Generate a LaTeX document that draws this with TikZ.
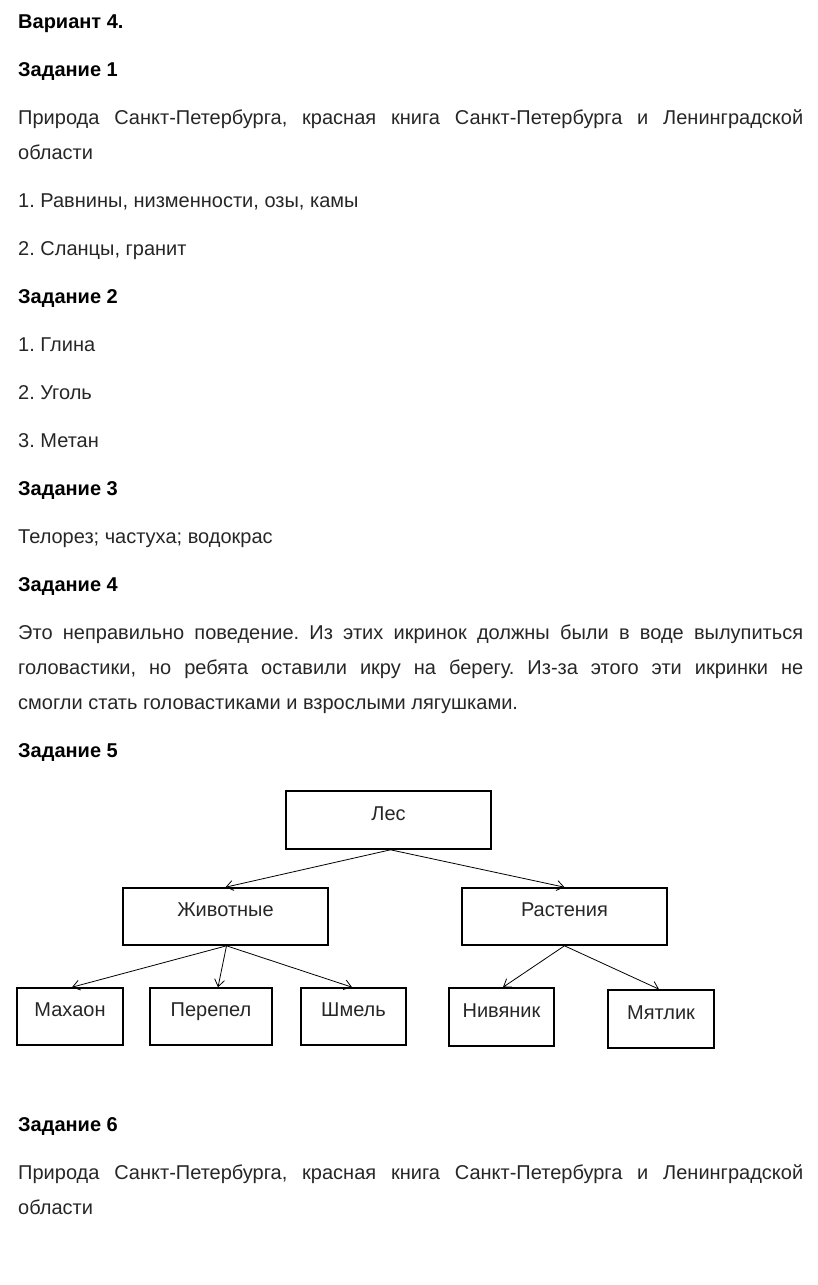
\documentclass[tikz,border=0pt]{standalone}
\usepackage{fontspec}
\setmainfont{Liberation Sans}
\frenchspacing
\usetikzlibrary{arrows.meta}

\begin{document}
\begin{tikzpicture} [x = 1pt, y = -1pt,
    line/.style = {anchor = base west, inner sep = 0pt, font = \fontsize{20}{24}\selectfont, text = black!85},
    head/.style = {line, font = \fontsize{20}{24}\selectfont\bfseries, text = black},
    box/.style = {draw, line width = 1.6pt, inner sep = 0pt, text height = 14pt, text depth = 14pt,
        minimum height = 57pt, font = \fontsize{20}{24}\selectfont, text = black!85},
    link/.style = {-{Straight Barb[length = 7pt, width = 10pt]}, line width = 0.8pt}]
    \useasboundingbox (0,0) rectangle (817,1285);

    \node (variant) [head] at (18,28) {Вариант 4.};
    \node (task1) [head] at (18,76) {Задание 1};
    \node (t1a) [line] at (18,124) {\makebox[785pt][s]{Природа Санкт-Петербурга, красная книга Санкт-Петербурга и Ленинградской}};
    \node (t1b) [line] at (18,159) {области};
    \node (t1c) [line] at (18,207) {1. Равнины, низменности, озы, камы};
    \node (t1d) [line] at (18,255) {2. Сланцы, гранит};

    \node (task2) [head] at (18,303) {Задание 2};
    \node (t2a) [line] at (18,351) {1. Глина};
    \node (t2b) [line] at (18,399) {2. Уголь};
    \node (t2c) [line] at (18,447) {3. Метан};

    \node (task3) [head] at (18,495) {Задание 3};
    \node (t3a) [line] at (18,543) {Телорез; частуха; водокрас};

    \node (task4) [head] at (18,591) {Задание 4};
    \node (t4a) [line] at (18,639) {\makebox[785pt][s]{Это неправильно поведение. Из этих икринок должны были в воде вылупиться}};
    \node (t4b) [line] at (18,674) {\makebox[785pt][s]{головастики, но ребята оставили икру на берегу. Из-за этого эти икринки не}};
    \node (t4c) [line] at (18,709) {смогли стать головастиками и взрослыми лягушками.};

    \node (task5) [head] at (18,757) {Задание 5};
    \node (les) [box, minimum width = 205pt, minimum height = 58pt] at (388.5,820) {Лес};
    \node (zhiv) [box, minimum width = 205pt] at (225.5,916.5) {Животные};
    \node (rast) [box, minimum width = 205pt] at (564.5,916.5) {Растения};
    \node (mahaon) [box, minimum width = 106pt] at (70,1016.5) {Махаон};
    \node (perepel) [box, minimum width = 122pt] at (211,1016.5) {Перепел};
    \node (shmel) [box, minimum width = 105pt] at (353.5,1016.5) {Шмель};
    \node (nivyanik) [box, minimum width = 105pt, minimum height = 58pt] at (501.5,1017) {Нивяник};
    \node (myatlik) [box, minimum width = 106pt, minimum height = 58pt] at (661,1019) {Мятлик};

    \draw [link] ([xshift = 2pt]les.south) -- (zhiv.north);
    \draw [link] ([xshift = 2pt]les.south) -- (rast.north);
    \draw [link] ([xshift = 1pt]zhiv.south) -- ([xshift = 2pt]mahaon.north);
    \draw [link] ([xshift = 1pt]zhiv.south) -- ([xshift = 7pt]perepel.north);
    \draw [link] ([xshift = 1pt]zhiv.south) -- ([xshift = -1.5pt]shmel.north);
    \draw [link] (rast.south) -- ([xshift = 1.5pt]nivyanik.north);
    \draw [link] (rast.south) -- ([xshift = -2pt]myatlik.north);

    \node (task6) [head] at (18,1131) {Задание 6};
    \node (t6a) [line] at (18,1179) {\makebox[785pt][s]{Природа Санкт-Петербурга, красная книга Санкт-Петербурга и Ленинградской}};
    \node (t6b) [line] at (18,1214) {области};

\end{tikzpicture}
\end{document}
